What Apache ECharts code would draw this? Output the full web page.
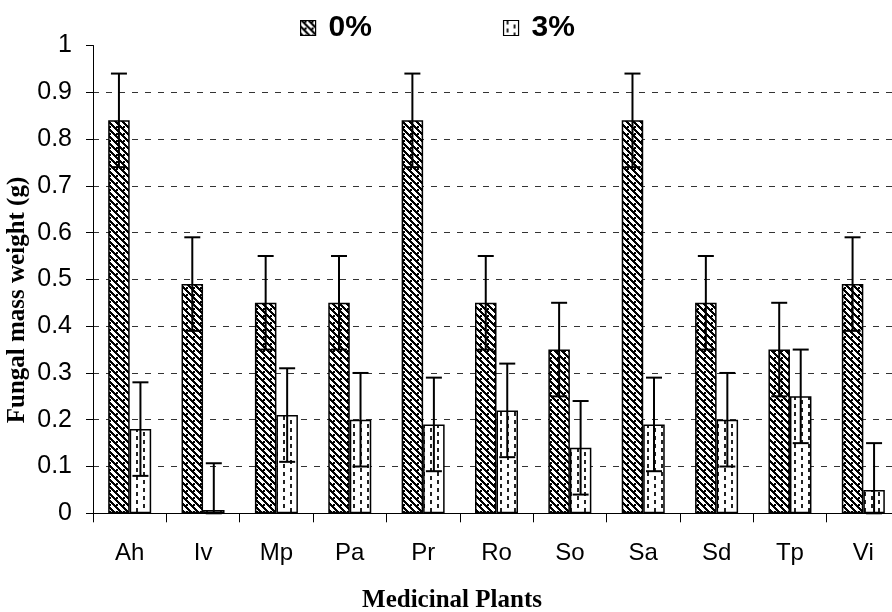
<!DOCTYPE html>
<html>
<head>
<meta charset="utf-8">
<script src="https://cdn.jsdelivr.net/npm/echarts@6/dist/echarts.min.js"></script>
<style>
html,body{margin:0;padding:0;background:#fff;overflow:hidden;}
#c{width:910px;height:612px;}
</style>
</head>
<body>
<div id="c"></div>
<script>
// ---- data ----
const categories = ['Ah','Iv','Mp','Pa','Pr','Ro','So','Sa','Sd','Tp','Vi'];
const seriesNames = ['0%','3%'];
const values0 = [0.84,0.49,0.45,0.45,0.84,0.45,0.35,0.84,0.45,0.35,0.49];
const values3 = [0.18,0.007,0.21,0.20,0.19,0.22,0.14,0.19,0.20,0.25,0.05];
const err0 = [0.10,0.10,0.10,0.10,0.10,0.10,0.10,0.10,0.10,0.10,0.10];
const err3 = [0.10,0.10,0.10,0.10,0.10,0.10,0.10,0.10,0.10,0.10,0.10];
const yTicks = [0,0.1,0.2,0.3,0.4,0.5,0.6,0.7,0.8,0.9,1];

// ---- patterns ----
function hatchPattern(){
  const n=14,p=7;
  const c=document.createElement('canvas');c.width=n;c.height=n;
  const g=c.getContext('2d');g.fillStyle='#fff';g.fillRect(0,0,n,n);
  g.fillStyle='#000';
  for(let y=0;y<n;y++)for(let x=0;x<n;x++){
    const d=(((x-y)%p)+p)%p; if(d<3) g.fillRect(x,y,1,1);
  }
  [0,7].forEach(y0=>{
    [(y0+4)%n,(y0+11)%n].forEach(x0=>{g.fillRect(x0,y0,2,2);});
  });
  return c;
}
function dashPattern(){
  const c=document.createElement('canvas');c.width=14;c.height=8;
  const g=c.getContext('2d');g.fillStyle='#fff';g.fillRect(0,0,14,8);
  g.fillStyle='#222';
  g.fillRect(3,0,2,4);g.fillRect(10,4,2,4);
  return c;
}
const pat0={image:hatchPattern(),repeat:'repeat'};
const pat3={image:dashPattern(),repeat:'repeat'};

const BARW=0.293;
function errSeries(vals,errs,side){
  return {
    type:'custom',
    z:10,
    silent:true,
    data:vals.map((v,i)=>[i,v,errs[i]]),
    renderItem:function(params,api){
      const i=api.value(0),v=api.value(1),e=api.value(2);
      const bw=api.size([1,0])[0];
      const off=side*bw*BARW/2;
      const top=api.coord([i,v+e]);
      const low=api.coord([i,Math.max(0,v-e)]);
      const x=top[0]+off;
      const cap=8;
      const st={stroke:'#000',lineWidth:2};
      return {type:'group',children:[
        {type:'line',shape:{x1:x,y1:top[1],x2:x,y2:low[1]},style:st},
        {type:'line',shape:{x1:x-cap,y1:top[1],x2:x+cap,y2:top[1]},style:st},
        {type:'line',shape:{x1:x-cap,y1:low[1],x2:x+cap,y2:low[1]},style:st}
      ]};
    }
  };
}

const gridColors=yTicks.map((t,i)=> i===yTicks.length-1?'rgba(0,0,0,0)':'#333');

const chart=echarts.init(document.getElementById('c'),null,{renderer:'canvas'});
chart.setOption({
  animation:false,
  backgroundColor:'#fff',
  legend:{
    data:seriesNames,
    left:295,top:8,
    itemWidth:15,itemHeight:15,itemGap:131,
    icon:'rect',
    textStyle:{fontFamily:'Liberation Sans',fontWeight:'bold',fontSize:30,color:'#000',padding:[0,0,0,8]},
    itemStyle:{borderColor:'#000',borderWidth:1.2}
  },
  grid:{left:93,right:10,top:45.5,bottom:98.7},
  xAxis:{
    type:'category',data:categories,
    axisLine:{lineStyle:{color:'#000',width:1}},
    axisTick:{show:true,length:9,lineStyle:{color:'#000'}},
    axisLabel:{fontFamily:'Liberation Sans',fontSize:24,color:'#000',margin:28}
  },
  yAxis:{
    type:'value',min:0,max:1,interval:0.1,
    axisLine:{show:true,lineStyle:{color:'#000',width:1}},
    axisTick:{show:true,length:7,lineStyle:{color:'#000'}},
    axisLabel:{fontFamily:'Liberation Sans',fontSize:25,color:'#000',margin:21,
      formatter:function(v){return String(Math.round(v*10)/10);}},
    splitLine:{show:true,lineStyle:{color:gridColors,type:[6,7],width:1}}
  },
  graphic:[
    {type:'text',x:18,y:300,rotation:Math.PI/2,
      style:{text:'Fungal mass weight (g)',font:'bold 25px "Liberation Serif"',fill:'#000',
        textAlign:'center',textVerticalAlign:'middle',align:'center',verticalAlign:'middle'}},
    {type:'text',x:452,y:601,
      style:{text:'Medicinal Plants',font:'bold 25px "Liberation Serif"',fill:'#000',
        textAlign:'center',textVerticalAlign:'middle',align:'center',verticalAlign:'middle'}}
  ],
  series:[
    {name:seriesNames[0],type:'bar',data:values0,barWidth:(BARW*100)+'%',barGap:'0%',
      itemStyle:{color:pat0,borderColor:'#000',borderWidth:1.5}},
    {name:seriesNames[1],type:'bar',data:values3,barWidth:(BARW*100)+'%',barGap:'0%',
      itemStyle:{color:pat3,borderColor:'#000',borderWidth:1.5}},
    errSeries(values0,err0,-1),
    errSeries(values3,err3,1)
  ]
});
</script>
</body>
</html>
